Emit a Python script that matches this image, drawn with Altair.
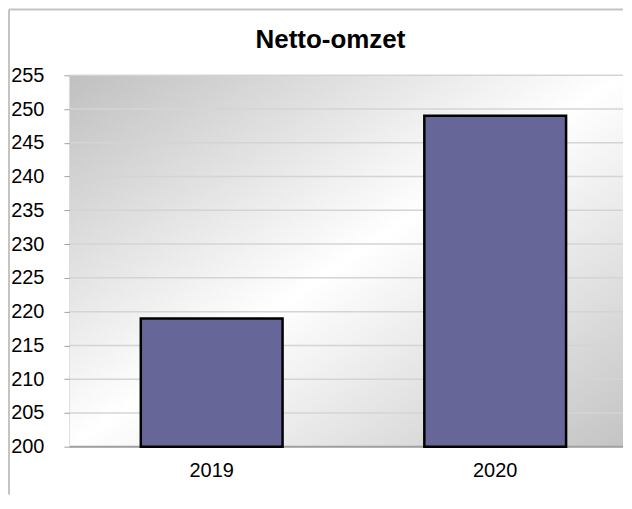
import altair as alt
import pandas as pd

years = ["2019", "2020"]
values = [219, 249]
y_ticks = [200, 205, 210, 215, 220, 225, 230, 235, 240, 245, 250, 255]
title_text = "Netto-omzet"

FONT = "Liberation Sans"
PW, PH = 554, 372

df = pd.DataFrame({"jaar": years, "omzet": values})
grid_df = pd.DataFrame({"omzet": y_ticks})
base_df = pd.DataFrame({"omzet": [200]})
one = alt.Data(values=[{"k": 1}])

xscale = alt.Scale(paddingInner=0.5, paddingOuter=0.2254, align=0.5547)
yscale = alt.Scale(domain=[200, 255], zero=False, nice=False)
yaxis = alt.Axis(values=y_ticks, labelFontSize=20, labelFont=FONT,
                 labelColor="#000000", tickSize=6, tickColor="#a0a0a0",
                 labelPadding=20, domainColor="#a0a0a0", domainWidth=1.5,
                 grid=False)

bg = alt.Chart(one).mark_rect(
    fill=alt.Gradient(
        gradient="linear", x1=0, y1=0, x2=1, y2=1,
        stops=[alt.GradientStop(offset=0, color="#c0c0c0"),
               alt.GradientStop(offset=0.5, color="#ffffff"),
               alt.GradientStop(offset=1, color="#c4c4c4")],
    )
).encode(x=alt.value(0), x2=alt.value(PW), y=alt.value(0), y2=alt.value(PH))

grid = alt.Chart(grid_df).mark_rule(color="#d4d4d4", strokeWidth=1.5).encode(
    y=alt.Y("omzet:Q", scale=yscale, axis=yaxis, title=None),
    x=alt.value(0), x2=alt.value(PW),
)

baseline = alt.Chart(base_df).mark_rule(color="#a0a0a0", strokeWidth=2).encode(
    y=alt.Y("omzet:Q", scale=yscale, axis=yaxis, title=None),
    x=alt.value(0), x2=alt.value(PW),
)

bars = alt.Chart(df).mark_bar(
    fill="#666699", stroke="#000000", strokeWidth=2.5
).encode(
    x=alt.X("jaar:N", scale=xscale, title=None,
            axis=alt.Axis(labelAngle=0, ticks=False, labelFontSize=20,
                          labelFont=FONT, labelColor="#000000", labelPadding=14,
                          domain=False, grid=False)),
    y=alt.Y("omzet:Q", scale=yscale, axis=yaxis, title=None),
    y2=alt.datum(200),
)

left_border = alt.Chart(one).mark_rule(color="#c4c4c4", strokeWidth=2).encode(
    x=alt.value(-61), y=alt.value(-66), y2=alt.value(420)
)
top_border = alt.Chart(one).mark_rule(color="#c4c4c4", strokeWidth=2).encode(
    x=alt.value(-61), x2=alt.value(PW), y=alt.value(-66)
)
title = alt.Chart(one).mark_text(
    text=title_text, font=FONT, fontSize=26, fontWeight="bold",
    color="#000000", align="center", baseline="alphabetic"
).encode(x=alt.value(261), y=alt.value(-27))

chart = alt.layer(bg, grid, baseline, bars, left_border, top_border, title).properties(
    width=PW, height=PH,
    padding=0,
    background="#ffffff",
).configure_view(stroke=None)

chart.save("out.html", embed_options={"renderer": "svg", "actions": False})
